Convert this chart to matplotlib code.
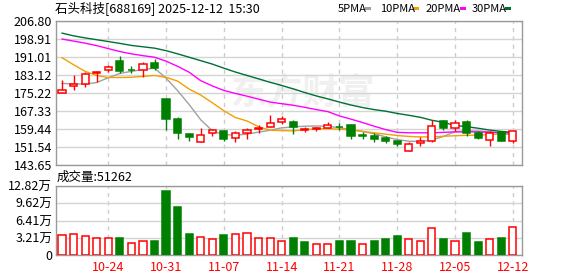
import matplotlib
matplotlib.use('Agg')
import matplotlib.pyplot as plt
import numpy as np

plt.rcParams['font.family'] = ['Noto Sans CJK SC', 'DejaVu Sans']

title = '石头科技[688169] 2025-12-12  15:30'
volume_label = '成交量:51262'
watermark = '东方财富'

dates = ['10-20', '10-21', '10-22', '10-23', '10-24',
         '10-27', '10-28', '10-29', '10-30', '10-31',
         '11-03', '11-04', '11-05', '11-06', '11-07',
         '11-10', '11-11', '11-12', '11-13', '11-14',
         '11-17', '11-18', '11-19', '11-20', '11-21',
         '11-24', '11-25', '11-26', '11-27', '11-28',
         '12-01', '12-02', '12-03', '12-04', '12-05',
         '12-08', '12-09', '12-10', '12-11', '12-12']

opens = [175.4, 178.2, 179.4, 183.9, 185.3, 189.3, 185.4, 185.6, 188.6, 172.5,
         163.9, 157.4, 153.7, 157.9, 158.5, 155.4, 157.9, 159.4, 160.2, 162.4,
         162.5, 159.2, 159.5, 160.1, 160.5, 161.1, 156.8, 156.3, 155.5, 154.0,
         149.8, 153.3, 154.4, 162.8, 159.8, 162.4, 157.5, 154.7, 158.1, 154.4]
highs = [180.8, 183.1, 184.7, 185.1, 187.6, 191.4, 187.1, 189.1, 190.2, 172.6,
         164.9, 157.7, 160.0, 159.6, 159.2, 158.5, 160.1, 161.3, 165.7, 165.2,
         163.4, 160.4, 160.2, 162.6, 162.3, 161.6, 158.2, 157.5, 156.2, 154.4,
         153.7, 156.0, 163.6, 163.6, 163.6, 163.6, 158.4, 158.4, 158.4, 158.8]
lows = [175.3, 176.8, 178.0, 180.2, 184.3, 184.0, 184.0, 182.3, 185.4, 158.9,
        155.0, 154.4, 153.7, 156.4, 154.2, 153.6, 155.0, 157.9, 160.2, 161.7,
        157.3, 158.2, 158.8, 159.7, 158.9, 154.9, 154.9, 153.7, 153.3, 151.8,
        149.8, 152.0, 153.9, 159.2, 158.8, 156.6, 155.1, 152.2, 154.0, 153.3]
closes = [176.4, 179.4, 183.7, 184.3, 186.6, 185.1, 185.2, 188.1, 186.1, 163.9,
          157.6, 155.9, 156.9, 158.9, 154.9, 157.8, 158.9, 159.8, 162.1, 163.9,
          160.4, 159.4, 159.7, 161.1, 160.3, 156.4, 156.6, 154.9, 154.2, 152.8,
          153.0, 154.4, 160.7, 160.1, 162.1, 157.6, 155.7, 157.9, 154.0, 158.4]

# volume in 万
volumes = [3.66, 3.85, 3.47, 3.16, 3.16, 3.16, 2.17, 2.54, 2.60, 11.90,
           8.92, 3.90, 3.28, 2.97, 3.72, 3.85, 4.03, 3.16, 3.10, 2.60,
           3.16, 2.47, 2.04, 2.04, 2.66, 2.66, 2.04, 2.66, 2.97, 3.53,
           2.97, 2.66, 5.10, 2.97, 2.66, 4.14, 2.47, 2.97, 3.16, 5.1262]

ma5 = [179.5, 179.3, 179.2, 179.9, 182.0, 183.9, 184.8, 185.6, 186.2, 181.8,
       176.3, 170.2, 163.5, 158.7, 157.0, 156.8, 157.2, 158.1, 158.9, 160.0,
       160.4, 160.7, 160.8, 160.7, 160.0, 159.2, 158.4, 157.4, 156.0, 154.8,
       154.1, 154.0, 154.6, 156.2, 158.3, 158.6, 158.6, 158.3, 157.6, 156.8]
ma10 = [190.8, 187.7, 184.8, 183.0, 182.1, 182.1, 182.2, 182.6, 183.0, 182.2,
        180.5, 177.0, 174.4, 171.0, 167.5, 164.5, 163.0, 160.5, 158.9, 158.8,
        158.6, 159.2, 159.5, 159.6, 159.4, 159.1, 158.4, 157.8, 157.2, 156.6,
        156.2, 156.0, 156.0, 156.3, 156.5, 156.7, 156.8, 157.0, 157.3, 157.5]
ma20 = [199.0, 198.1, 197.2, 196.1, 194.8, 193.5, 192.5, 191.7, 191.0, 189.3,
        187.0, 184.4, 180.7, 178.4, 176.4, 175.1, 173.9, 172.6, 171.3, 170.6,
        169.9, 169.0, 168.0, 167.1, 165.2, 163.8, 162.3, 160.7, 159.2, 158.0,
        157.8, 157.8, 157.8, 158.0, 158.2, 158.2, 158.2, 158.0, 157.8, 157.8]
ma30 = [201.6, 200.4, 199.5, 198.7, 197.9, 197.1, 196.2, 195.6, 195.0, 193.9,
        192.5, 191.0, 189.5, 188.0, 186.2, 184.5, 183.0, 181.5, 180.0, 178.6,
        177.1, 175.5, 174.0, 172.7, 171.3, 170.0, 168.9, 168.0, 167.3, 166.3,
        165.5, 164.6, 163.3, 162.4, 161.0, 160.5, 159.8, 159.0, 158.4, 158.0]

price_ticks = [143.65, 151.54, 159.44, 167.33, 175.22, 183.12, 191.01, 198.91, 206.80]
vol_ticks = [0, 3.21, 6.41, 9.62, 12.82]
vol_tick_labels = ['0', '3.21万', '6.41万', '9.62万', '12.82万']
xtick_dates = ['10-24', '10-31', '11-07', '11-14', '11-21', '11-28', '12-05', '12-12']

ma_names = ['5PMA', '10PMA', '20PMA', '30PMA']
ma_colors = ['#a0a0a0', '#f0a000', '#ff00ff', '#006f36']

RED = '#ff0000'
GREEN = '#008000'
GRID = '#d4d4d4'
FRAME = '#9a9a9a'

W, H = 578, 276
fig = plt.figure(figsize=(W / 100, H / 100), dpi=100)

def fx(px):
    return px / W

def fy(py):
    return 1 - py / H

L, R = 55.7, 522.3
ax = fig.add_axes([fx(L), fy(165), fx(R - L), fy(21.3) - fy(165)])
axv = fig.add_axes([fx(L), fy(255), fx(R - L), fy(186) - fy(255)])

idx = np.arange(len(dates))
o = np.array(opens); h = np.array(highs); lo = np.array(lows); c = np.array(closes)
up = c >= o
col = np.where(up, RED, GREEN)

# watermark
ax.text(0.53, 0.50, watermark, transform=ax.transAxes, fontsize=26, color='#f0f0f0',
        fontweight='bold', ha='center', va='center', zorder=0.2)

# wicks
ax.vlines(idx, lo, h, colors=col, lw=1, zorder=3)
bottoms = np.minimum(o, c)
heights = np.maximum(np.abs(c - o), 0.12)
faces = np.where(up, 'white', GREEN)
ax.bar(idx, heights, bottom=bottoms, width=0.62, facecolor=faces, edgecolor=col,
       lw=1.1, zorder=4)

for vals, cc in zip([ma5, ma10, ma20, ma30], ma_colors):
    ax.plot(idx, vals, color=cc, lw=1, zorder=2.5)

xlim = (-0.55, 39.82)
for a in (ax, axv):
    a.set_xlim(*xlim)
    a.set_axisbelow(True)
    for s in a.spines.values():
        s.set_color(FRAME)
        s.set_linewidth(1)
    a.tick_params(length=0, labelsize=9, pad=2.5, colors='black')
    for d in xtick_dates:
        a.axvline(dates.index(d), color='#cccccc', lw=1, ls=(0, (3, 3)), zorder=0.5)

ax.set_ylim(price_ticks[0], price_ticks[-1])
ax.set_yticks(price_ticks)
ax.set_yticklabels([f'{t:.2f}' for t in price_ticks])
ax.grid(axis='y', color=GRID, lw=1)
ax.set_xticks([])

# volume
vup = [c[0] >= o[0]] + [c[i] >= c[i - 1] for i in range(1, len(c))]
vcol = [RED if u else GREEN for u in vup]
vface = ['white' if u else GREEN for u in vup]
axv.bar(idx, volumes, width=0.62, facecolor=vface, edgecolor=vcol, lw=1.1, zorder=3)
axv.set_ylim(0, vol_ticks[-1])
axv.set_yticks(vol_ticks)
axv.set_yticklabels(vol_tick_labels)
axv.grid(axis='y', color=GRID, lw=1)
axv.set_xticks([dates.index(d) for d in xtick_dates])
axv.set_xticklabels(xtick_dates, color=RED, fontsize=9)
axv.tick_params(axis='x', pad=4)

# title and labels
fig.text(fx(55), fy(8.5), title, fontsize=9, ha='left', va='center')
fig.text(fx(57), fy(177), volume_label, fontsize=9, ha='left', va='center')

# legend
leg_x = [338, 380, 426, 471.7]
mark_x = [365, 413, 459.5, 505]
for name, cc, tx, mx in zip(ma_names, ma_colors, leg_x, mark_x):
    fig.text(fx(tx), fy(8.5), name, fontsize=8, ha='left', va='center')
    fig.patches.append(plt.Rectangle((fx(mx), fy(10)), fx(6), fy(7) - fy(10),
                                     transform=fig.transFigure, facecolor=cc,
                                     edgecolor='none', figure=fig))

fig.savefig('out.png', dpi=100)
